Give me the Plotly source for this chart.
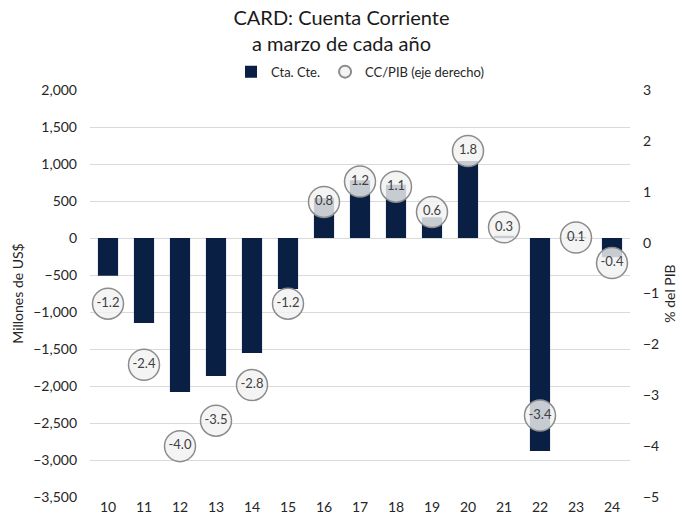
import plotly.graph_objects as go

years = ['10', '11', '12', '13', '14', '15', '16', '17', '18', '19', '20', '21', '22', '23', '24']
cta_cte = [-510, -1150, -2080, -1865, -1555, -690, 540, 780, 720, 280, 1040, 30, -2880, 10, -260]
cc_pib = [-1.2, -2.4, -4.0, -3.5, -2.8, -1.2, 0.8, 1.2, 1.1, 0.6, 1.8, 0.3, -3.4, 0.1, -0.4]

font_family = 'Lato, Open Sans, sans-serif'
navy = '#0a1f44'

fig = go.Figure()
fig.add_trace(go.Bar(
    x=years, y=cta_cte, name='Cta. Cte.',
    marker={'color': navy, 'line': {'width': 0}},
))
fig.add_trace(go.Scatter(
    x=years, y=cc_pib, name='CC/PIB (eje derecho)', yaxis='y2',
    mode='markers+text',
    marker={'size': 31, 'color': 'rgba(242,242,242,0.82)',
            'line': {'color': '#8c8c8c', 'width': 1.5}},
    text=[f'{v:.1f}' for v in cc_pib], textposition='middle center',
    textfont={'size': 13, 'color': '#404040', 'family': font_family},
))

fig.update_layout(
    width=683, height=527,
    paper_bgcolor='white', plot_bgcolor='white',
    margin={'l': 90, 'r': 53, 't': 90, 'b': 30, 'autoexpand': False},
    font={'family': font_family, 'color': '#262626', 'size': 14},
    title={'text': 'CARD: Cuenta Corriente<br>a marzo de cada año',
           'x': 0.5, 'xanchor': 'center', 'y': 0.952, 'yanchor': 'middle',
           'font': {'size': 20, 'color': '#1a1a1a'}},
    legend={'orientation': 'h', 'x': 0.5, 'xanchor': 'center',
            'y': 1.045, 'yanchor': 'middle', 'font': {'size': 13},
            'itemwidth': 30, 'itemsizing': 'constant', 'traceorder': 'normal'},
    bargap=0.44,
    showlegend=True,
    xaxis={'type': 'category', 'range': [-0.5, len(years) - 0.5],
           'showgrid': False, 'showline': False,
           'ticks': '', 'tickfont': {'size': 14}, 'automargin': False},
    yaxis={'range': [-3500, 2000], 'dtick': 500, 'tickformat': ',',
           'gridcolor': '#d9d9d9', 'gridwidth': 1, 'zeroline': False,
           'showline': False, 'ticks': '', 'ticklabelstandoff': 12,
           'automargin': False,
           'title': {'text': 'Millones de US$', 'font': {'size': 14}, 'standoff': 6},
           'tickfont': {'size': 14}},
    yaxis2={'range': [-5, 3], 'dtick': 1, 'overlaying': 'y', 'side': 'right',
            'showgrid': False, 'zeroline': False, 'showline': False, 'ticks': '',
            'ticklabelstandoff': 12, 'automargin': False,
            'title': {'text': '% del PIB', 'font': {'size': 14}, 'standoff': 6},
            'tickfont': {'size': 14}},
)

fig.write_html('out.html', config={'displayModeBar': False},
               post_script="document.body.style.margin='0';")
